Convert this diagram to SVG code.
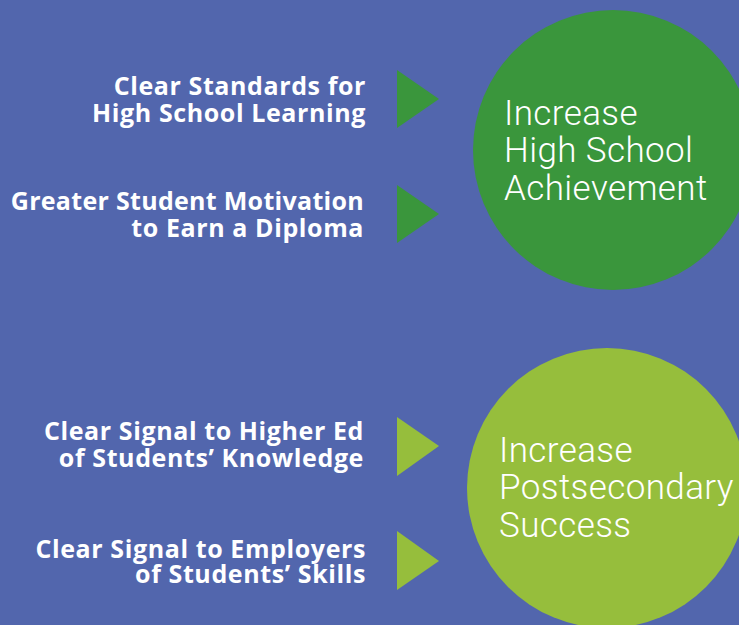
<svg xmlns="http://www.w3.org/2000/svg" width="739" height="625" viewBox="0 0 739 625">
<style>
.bg{fill:#5266AD}
.lbl{font-family:"Open Sans","Liberation Sans",sans-serif;font-weight:700;font-size:25px;fill:#FFFFFF;text-anchor:end;letter-spacing:0.6px}
.big{font-family:Roboto,"Liberation Sans",sans-serif;font-weight:300;font-size:35px;fill:#FFFFFF;letter-spacing:0.4px}
.dk{fill:#3A963C}
.lt{fill:#96BE3C}
</style>
<rect class="bg" x="0" y="0" width="739" height="625"/>
<g id="connectors">
<polygon class="dk" points="397,70 439,99 397,128"/>
<polygon class="dk" points="397,185 439,214 397,243"/>
<polygon class="lt" points="397,417 439,446 397,476"/>
<polygon class="lt" points="397,531 439,561 397,590"/>
</g>
<g id="goal-hs">
<circle class="dk" cx="613" cy="150" r="140"/>
<text class="big" x="504" y="125">Increase</text>
<text class="big" x="504" y="162">High School</text>
<text class="big" x="504" y="200">Achievement</text>
</g>
<g id="goal-ps">
<circle class="lt" cx="607" cy="488" r="140"/>
<text class="big" x="499" y="462">Increase</text>
<text class="big" x="499" y="499">Postsecondary</text>
<text class="big" x="499" y="537">Success</text>
</g>
<g id="standards">
<text class="lbl" x="366" y="95">Clear Standards for</text>
<text class="lbl" x="366" y="122">High School Learning</text>
</g>
<g id="motivation">
<text class="lbl" x="364" y="210" style="letter-spacing:0.3px">Greater Student Motivation</text>
<text class="lbl" x="364" y="237">to Earn a Diploma</text>
</g>
<g id="higher-ed">
<text class="lbl" x="364" y="440">Clear Signal to Higher Ed</text>
<text class="lbl" x="364" y="467">of Students’ Knowledge</text>
</g>
<g id="employers">
<text class="lbl" x="366" y="558">Clear Signal to Employers</text>
<text class="lbl" x="366" y="583">of Students’ Skills</text>
</g>
</svg>
